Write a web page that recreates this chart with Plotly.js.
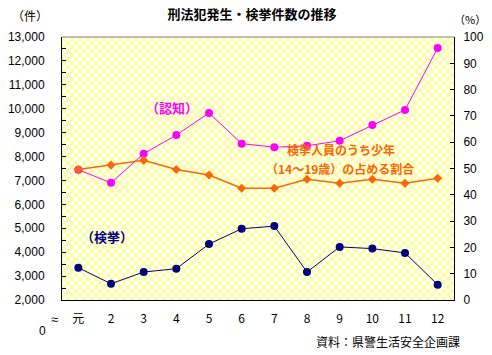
<!DOCTYPE html>
<html>
<head>
<meta charset="utf-8">
<script src="https://cdn.plot.ly/plotly-3.0.1.min.js"></script>
<style>
  html, body { margin: 0; padding: 0; background: #ffffff; }
  #chart { width: 492px; height: 355px; }
</style>
</head>
<body>
<div id="chart"></div>
<script>
// ---- data ----
const categories = ['元', '2', '3', '4', '5', '6', '7', '8', '9', '10', '11', '12'];
const ninchi = [7450, 6900, 8120, 8900, 9820, 8540, 8390, 8450, 8660, 9320, 9950, 12540];   // 認知件数
const kenkyo = [3350, 2680, 3170, 3310, 4340, 4980, 5090, 3170, 4220, 4150, 3970, 2640];    // 検挙件数
const shonenRatio = [49.6, 51.3, 53.1, 49.6, 47.5, 42.5, 42.5, 45.9, 44.4, 45.9, 44.4, 46.3]; // 少年の占める割合(%)
const leftTicks = [2000, 3000, 4000, 5000, 6000, 7000, 8000, 9000, 10000, 11000, 12000, 13000];
const leftTickText = ['2,000', '3,000', '4,000', '5,000', '6,000', '7,000', '8,000', '9,000', '10,000', '11,000', '12,000', '13,000'];
const rightTicks = [0, 10, 20, 30, 40, 50, 60, 70, 80, 90, 100];

const FONT = 'Liberation Sans, Arial, sans-serif';
const JFONT = '"Noto Sans CJK JP", sans-serif';

const checker = "data:image/svg+xml;utf8," + encodeURIComponent(
  "<svg xmlns='http://www.w3.org/2000/svg' width='392' height='263'>" +
  "<defs><pattern id='p' width='8' height='8' patternUnits='userSpaceOnUse'>" +
  "<rect width='8' height='8' fill='#ffffff'/>" +
  "<rect width='4' height='4' fill='#FFFF99'/>" +
  "<rect x='4' y='4' width='4' height='4' fill='#FFFF99'/>" +
  "</pattern></defs><rect width='392' height='263' fill='url(#p)'/></svg>");

const traces = [
  {
    x: categories, y: ninchi, type: 'scatter', mode: 'lines+markers', name: '認知',
    line: { color: '#FF00FF', width: 1 },
    marker: { color: '#FF00FF', size: 8, symbol: 'circle' },
    yaxis: 'y', hoverinfo: 'skip'
  },
  {
    x: categories, y: kenkyo, type: 'scatter', mode: 'lines+markers', name: '検挙',
    line: { color: '#000080', width: 1 },
    marker: { color: '#000080', size: 8, symbol: 'circle' },
    yaxis: 'y', hoverinfo: 'skip'
  },
  {
    x: categories, y: shonenRatio, type: 'scatter', mode: 'lines+markers', name: '少年割合',
    line: { color: '#FF6600', width: 1.5 },
    marker: { color: '#FF6600', size: 7, symbol: 'diamond' },
    yaxis: 'y2', hoverinfo: 'skip'
  }
];

const layout = {
  width: 492, height: 355,
  margin: { l: 62, r: 38, t: 37, b: 55, pad: 0 },
  paper_bgcolor: '#ffffff',
  plot_bgcolor: 'rgba(0,0,0,0)',
  showlegend: false,
  font: { family: FONT, size: 12, color: '#000000' },
  title: {
    text: '<b>刑法犯発生・検挙件数の推移</b>',
    font: { family: JFONT, size: 13, color: '#000000' },
    x: 0.512, xanchor: 'center', y: 0.96, yanchor: 'middle', yref: 'container'
  },
  xaxis: {
    type: 'category', range: [-0.5, 11.5],
    showgrid: false, zeroline: false,
    showline: true, linecolor: '#000000', linewidth: 1,
    ticks: '', tickfont: { family: JFONT, size: 12, color: '#000000' },
    ticklabelstandoff: 8
  },
  yaxis: {
    range: [2000, 13000], tickvals: leftTicks, ticktext: leftTickText,
    showgrid: false, zeroline: false,
    showline: true, linecolor: '#000000', linewidth: 1,
    ticks: 'inside', ticklen: 4, tickcolor: '#000000',
    minor: { dtick: 500, tick0: 2000, ticks: 'inside', ticklen: 4, tickcolor: '#000000' },
    tickfont: { family: FONT, size: 12, color: '#000000' },
    ticklabelstandoff: 14
  },
  yaxis2: {
    range: [0, 100], tickvals: rightTicks,
    overlaying: 'y', side: 'right',
    showgrid: false, zeroline: false,
    showline: true, linecolor: '#000000', linewidth: 1,
    ticks: 'inside', ticklen: 4, tickcolor: '#000000',
    tickfont: { family: FONT, size: 12, color: '#000000' },
    ticklabelstandoff: 6
  },
  images: [{
    source: checker, xref: 'paper', yref: 'paper', x: 0, y: 1,
    sizex: 1, sizey: 1, xanchor: 'left', yanchor: 'top', sizing: 'stretch', layer: 'below'
  }],
  shapes: [{
    type: 'line', xref: 'paper', yref: 'paper', x0: 0, x1: 1, y0: 1, y1: 1,
    line: { color: '#808080', width: 1 }
  }],
  annotations: [
    { text: '（件）', xref: 'paper', yref: 'paper', x: -0.082, y: 1.08, showarrow: false,
      xanchor: 'center', yanchor: 'middle', font: { family: JFONT, size: 12, color: '#000000' } },
    { text: '（%）', xref: 'paper', yref: 'paper', x: 1.04, y: 1.068, showarrow: false,
      xanchor: 'center', yanchor: 'middle', font: { family: JFONT, size: 11, color: '#000000' } },
    { text: '<b>（認知）</b>', xref: 'paper', yref: 'paper', x: 0.28, y: 0.733, showarrow: false,
      xanchor: 'center', yanchor: 'middle', font: { family: JFONT, size: 13, color: '#FF00FF' } },
    { text: '<b>（検挙）</b>', xref: 'paper', yref: 'paper', x: 0.115, y: 0.24, showarrow: false,
      xanchor: 'center', yanchor: 'middle', font: { family: JFONT, size: 13, color: '#000080' } },
    { text: '<b>検挙人員のうち少年</b>', xref: 'paper', yref: 'paper', x: 0.712, y: 0.572, showarrow: false,
      xanchor: 'center', yanchor: 'middle', font: { family: JFONT, size: 12, color: '#FF6600' } },
    { text: '<b>（14～19歳）の占める割合</b>', xref: 'paper', yref: 'paper', x: 0.709, y: 0.5, showarrow: false,
      xanchor: 'center', yanchor: 'middle', font: { family: JFONT, size: 12, color: '#FF6600' } },
    { text: '≈', xref: 'paper', yref: 'paper', x: -0.02, y: -0.076, showarrow: false,
      xanchor: 'center', yanchor: 'middle', font: { family: FONT, size: 13, color: '#000000' } },
    { text: '0', xref: 'paper', yref: 'paper', x: -0.051, y: -0.118, showarrow: false,
      xanchor: 'center', yanchor: 'middle', font: { family: FONT, size: 12, color: '#000000' } },
    { text: '資料：県警生活安全企画課', xref: 'paper', yref: 'paper', x: 1.02, y: -0.156, showarrow: false,
      xanchor: 'right', yanchor: 'middle', font: { family: JFONT, size: 12, color: '#000000' } }
  ]
};

Plotly.newPlot('chart', traces, layout, { staticPlot: true, displayModeBar: false });
</script>
</body>
</html>
